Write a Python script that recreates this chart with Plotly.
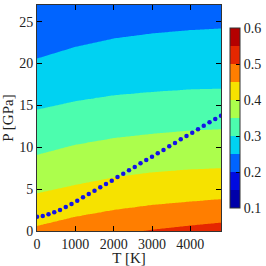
import numpy as np
import plotly.graph_objects as go

# Temperatures at which the contour boundaries were read (K)
T_samples = [0, 1000, 2000, 3000, 4000, 4800]
# Contour levels and the pressure (GPa) of each level boundary at the T samples
levels = [0.15, 0.20, 0.25, 0.30, 0.35, 0.40, 0.45, 0.50, 0.55]
boundary_P = {
    0.15: [36.0, 37.0, 38.0, 38.5, 39.0, 39.0],
    0.20: [27.5, 28.5, 29.5, 30.0, 30.3, 30.5],
    0.25: [20.6, 22.0, 23.0, 23.6, 24.0, 24.2],
    0.30: [14.5, 15.5, 16.2, 16.6, 16.9, 17.0],
    0.35: [9.1, 10.3, 11.1, 11.6, 12.0, 12.15],
    0.40: [4.5, 5.5, 6.4, 7.0, 7.35, 7.5],
    0.45: [0.6, 1.7, 2.5, 3.1, 3.5, 3.8],
    0.50: [-2.5, -1.3, -0.5, 0.15, 0.65, 1.0],
    0.55: [-6.0, -5.0, -4.0, -3.0, -2.5, -2.0],
}

# Dotted line points
line_T = list(range(0, 4801, 150))
line_P = [1.71, 1.79, 1.99, 2.23, 2.51, 2.87, 3.23, 3.62, 4.02, 4.42, 4.82,
          5.22, 5.62, 6.01, 6.45, 6.85, 7.25, 7.65, 8.09, 8.48, 8.88, 9.28,
          9.68, 10.12, 10.51, 10.95, 11.35, 11.75, 12.15, 12.58, 12.99, 13.38,
          13.78]

band_colors = ["#0000a8", "#0000aa", "#0010ff", "#0080ff", "#00e0f0",
               "#50ffaa", "#a8ff50", "#f5f000", "#ff9400", "#ff3c00",
               "#b40000", "#b40000"]

# Build the field from the read boundaries
Tg = np.linspace(0, 4800, 121)
Pg = np.linspace(0, 27, 136)
Z = np.zeros((len(Pg), len(Tg)))
for j, t in enumerate(Tg):
    bp = [np.interp(t, T_samples, boundary_P[l]) for l in levels]
    Z[:, j] = np.interp(Pg, bp[::-1], levels[::-1])

n = len(band_colors) - 1
colorscale = [[i / n, c] for i, c in enumerate(band_colors)]

fig = go.Figure()
fig.add_trace(go.Contour(
    x=Tg, y=Pg, z=Z,
    contours=dict(start=0.1, end=0.6, size=0.05, coloring="fill", showlines=False),
    colorscale=colorscale, zmin=0.1, zmax=0.6,
    line=dict(width=0),
    colorbar=dict(
        x=1.047, xanchor="left", xpad=0, ypad=0,
        y=0.5, yanchor="middle", len=0.796,
        thickness=10, outlinewidth=1, outlinecolor="#333",
        tickvals=[0.1, 0.2, 0.3, 0.4, 0.5, 0.6],
        ticktext=["0.1", "0.2", "0.3", "0.4", "0.5", "0.6"],
        ticks="inside", ticklen=4, tickcolor="#000",
        tickfont=dict(family="Liberation Serif", size=14, color="#222"),
    ),
))
fig.add_trace(go.Scatter(
    x=line_T, y=line_P, mode="markers",
    marker=dict(color="#1414e6", size=4.5),
    showlegend=False,
))

axis_common = dict(
    showgrid=False, zeroline=False, showline=True, linecolor="#333", linewidth=1,
    mirror="ticks", ticks="inside", ticklen=5, tickcolor="#000",
    tickfont=dict(family="Liberation Serif", size=14, color="#222"),
    automargin=False,
)
fig.update_layout(
    width=266, height=266,
    margin=dict(l=37, r=45, t=5, b=35, autoexpand=False),
    paper_bgcolor="white", plot_bgcolor="white",
    font=dict(family="Liberation Serif", size=14, color="#222"),
    xaxis=dict(range=[0, 4800], tickvals=[0, 1000, 2000, 3000, 4000],
               title=dict(text="T [K]", standoff=0,
                          font=dict(family="Liberation Serif", size=15)),
               **axis_common),
    yaxis=dict(range=[0, 27], tickvals=[0, 5, 10, 15, 20, 25],
               title=dict(text="P [GPa]", standoff=2,
                          font=dict(family="Liberation Serif", size=15)),
               **axis_common),
)
fig.write_html("out.html", config={"displayModeBar": False},
               post_script="document.body.style.margin='0px';document.body.style.overflow='hidden';")
